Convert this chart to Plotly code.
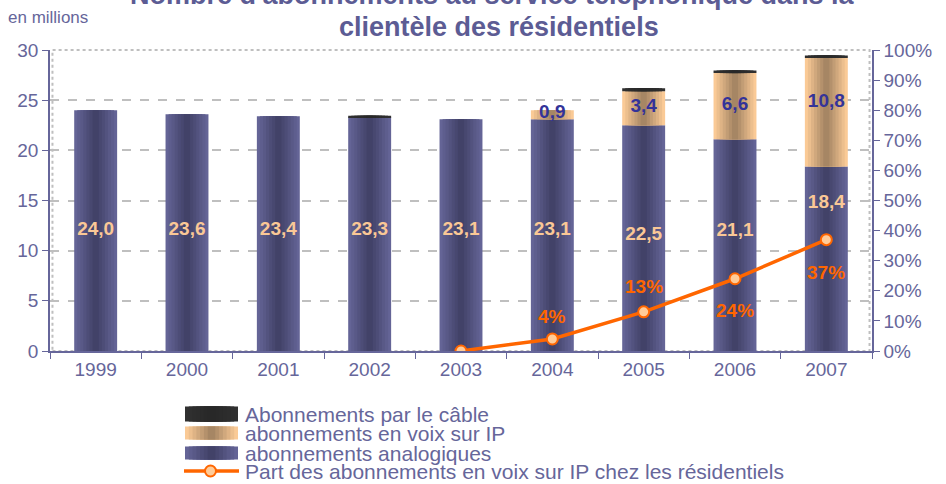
import plotly.graph_objects as go

years = ["1999", "2000", "2001", "2002", "2003", "2004", "2005", "2006", "2007"]
analog = [24.0, 23.6, 23.4, 23.3, 23.1, 23.1, 22.5, 21.1, 18.4]
voip = [0, 0, 0, 0, 0, 0.9, 3.4, 6.6, 10.8]
cable = [0, 0, 0, 0.15, 0, 0, 0.3, 0.25, 0.25]
analog_labels = ["24,0", "23,6", "23,4", "23,3", "23,1", "23,1", "22,5", "21,1", "18,4"]
analog_label_pos = [12.0, 12.0, 12.0, 12.0, 12.0, 12.0, 11.5, 11.9, 14.7]
voip_labels = ["", "", "", "", "", "0,9", "3,4", "6,6", "10,8"]
voip_label_pos = [0, 0, 0, 0, 0, 23.7, 24.3, 24.5, 24.8]
share_years = ["2003", "2004", "2005", "2006", "2007"]
share = [0.0, 0.04, 0.13, 0.24, 0.37]
share_labels = ["", "4%", "13%", "24%", "37%"]
share_label_shift = [0, 22, 25, -32, -33]
legend_names = [
    "Abonnements par le câble",
    "abonnements en voix sur IP",
    "abonnements analogiques",
    "Part des abonnements en voix sur IP chez les résidentiels",
]

SLATE = "#66669A"
FONT = "Liberation Sans, Arial, sans-serif"
BAR_W = 0.47
N = 7
W, H = 946, 484
ML, MR, MT, MB = 50, 74, 50, 133
PW, PH = W - ML - MR, H - MT - MB

C_ANALOG = ((100, 100, 150), (66, 66, 104))
C_VOIP = ((250, 202, 150), (166, 134, 100))
C_CABLE = ((48, 48, 48), (40, 40, 40))


def lerp(c1, c2, t):
    return "rgb(%d,%d,%d)" % tuple(round(a + (b - a) * t) for a, b in zip(c1, c2))


def px(x):
    return (x - ML) / PW


def py(y):
    return (H - MB - y) / PH


fig = go.Figure()

base_voip = list(analog)
base_cable = [a + v for a, v in zip(analog, voip)]

series = [
    ("abonnements analogiques", analog, [0] * 9, C_ANALOG),
    ("abonnements en voix sur IP", voip, base_voip, C_VOIP),
    ("Abonnements par le câble", cable, base_cable, C_CABLE),
]
for name, vals, base, (c_edge, c_mid) in series:
    for i in range(N):
        t = i / (N - 1)
        fig.add_trace(go.Bar(
            x=years, y=vals, base=base, width=BAR_W * (1 - i / N),
            marker=dict(color=lerp(c_edge, c_mid, t), line=dict(width=0)),
            name=name, showlegend=False, hoverinfo="skip",
        ))

fig.add_trace(go.Scatter(
    x=years, y=analog_label_pos, mode="text", text=analog_labels,
    textfont=dict(color="#FAC896", size=19, family=FONT, weight="bold"),
    showlegend=False, hoverinfo="skip",
))
fig.add_trace(go.Scatter(
    x=years, y=voip_label_pos, mode="text", text=voip_labels,
    textfont=dict(color="#333399", size=19, family=FONT, weight="bold"),
    showlegend=False, hoverinfo="skip",
))

fig.add_trace(go.Scatter(
    x=share_years, y=share, yaxis="y2", mode="lines+markers",
    name=legend_names[3],
    line=dict(color="#FF6600", width=3.5),
    marker=dict(symbol="circle", size=11, color="#FFCC99", line=dict(color="#FF6600", width=2)),
    showlegend=False, hoverinfo="skip",
))
for yr, v, lab, sh in zip(share_years, share, share_labels, share_label_shift):
    if lab:
        fig.add_annotation(x=years.index(yr), y=v, xref="x", yref="y2", text="<b>" + lab + "</b>",
                           showarrow=False, yshift=sh, xanchor="center", yanchor="middle",
                           font=dict(color="#FF6600", size=19, family=FONT))

fig.update_layout(
    width=W, height=H,
    margin=dict(l=ML, r=MR, t=MT, b=MB, autoexpand=False),
    paper_bgcolor="white", plot_bgcolor="white",
    barmode="overlay",
    showlegend=False,
    font=dict(family=FONT, color=SLATE, size=19),
    xaxis=dict(
        type="category", showline=True, linecolor=SLATE, linewidth=1.5,
        ticks="outside", tickson="boundaries", ticklen=6, tickcolor=SLATE,
        tickfont=dict(size=19, color=SLATE), showgrid=False, automargin=False,
        range=[-0.5, 8.5],
    ),
    yaxis=dict(
        range=[0, 30], dtick=5, showline=True, linecolor=SLATE, linewidth=1.5,
        ticks="outside", ticklen=6, tickcolor=SLATE, automargin=False,
        tickfont=dict(size=19, color=SLATE),
        showgrid=True, gridcolor="#BFBFBF", griddash="dash", gridwidth=1.5,
        zeroline=False,
    ),
    yaxis2=dict(
        overlaying="y", side="right", range=[0, 1], dtick=0.1, tickformat=".0%",
        showline=True, linecolor=SLATE, linewidth=1.5, automargin=False,
        ticks="outside", ticklen=6, tickcolor=SLATE,
        tickfont=dict(size=19, color=SLATE), showgrid=False, zeroline=False,
    ),
)

fig.add_shape(type="rect", xref="paper", yref="paper", x0=0.003, x1=0.997, y0=0, y1=1,
              line=dict(color="#BFBFBF", width=2, dash="dot"), layer="below")

# titles
fig.add_annotation(xref="paper", yref="paper", x=px(493), y=py(-5), showarrow=False,
                   xanchor="center", yanchor="middle",
                   text="<b>Nombre d'abonnements au service téléphonique dans la</b>",
                   font=dict(size=27, color="#5C5C94", family=FONT))
fig.add_annotation(xref="paper", yref="paper", x=px(499), y=py(27), showarrow=False,
                   xanchor="center", yanchor="middle",
                   text="<b>clientèle des résidentiels</b>",
                   font=dict(size=27, color="#5C5C94", family=FONT))
fig.add_annotation(xref="paper", yref="paper", x=px(6), y=py(17), xanchor="left",
                   yanchor="middle", showarrow=False, text="en millions",
                   font=dict(size=17, color=SLATE, family=FONT))

# manual legend
rows = [414, 433, 453, 471]
sym_x0, sym_x1 = 185, 238
for row, (c_edge, c_mid), hh in zip(rows[:3], [C_CABLE, C_VOIP, C_ANALOG], [7.5, 6.5, 6.5]):
    for i in range(N):
        t = i / (N - 1)
        half = (sym_x1 - sym_x0) / 2 * (1 - i / N)
        cx = (sym_x0 + sym_x1) / 2
        fig.add_shape(type="rect", xref="paper", yref="paper",
                      x0=px(cx - half), x1=px(cx + half), y0=py(row + hh), y1=py(row - hh),
                      fillcolor=lerp(c_edge, c_mid, t), line=dict(width=0))
fig.add_shape(type="line", xref="paper", yref="paper",
              x0=px(184), x1=px(239), y0=py(rows[3]), y1=py(rows[3]),
              line=dict(color="#FF6600", width=3.5))
fig.add_shape(type="circle", xref="paper", yref="paper",
              x0=px(205), x1=px(216), y0=py(rows[3] + 5.5), y1=py(rows[3] - 5.5),
              fillcolor="#FFCC99", line=dict(color="#FF6600", width=2))
for row, name in zip(rows, legend_names):
    fig.add_annotation(xref="paper", yref="paper", x=px(244), y=py(row), xanchor="left",
                       yanchor="middle", showarrow=False, text=name, borderpad=0,
                       font=dict(size=21, color=SLATE, family=FONT))

fig.write_html("out.html", config={"displayModeBar": False},
               post_script="document.body.style.margin='0';")
